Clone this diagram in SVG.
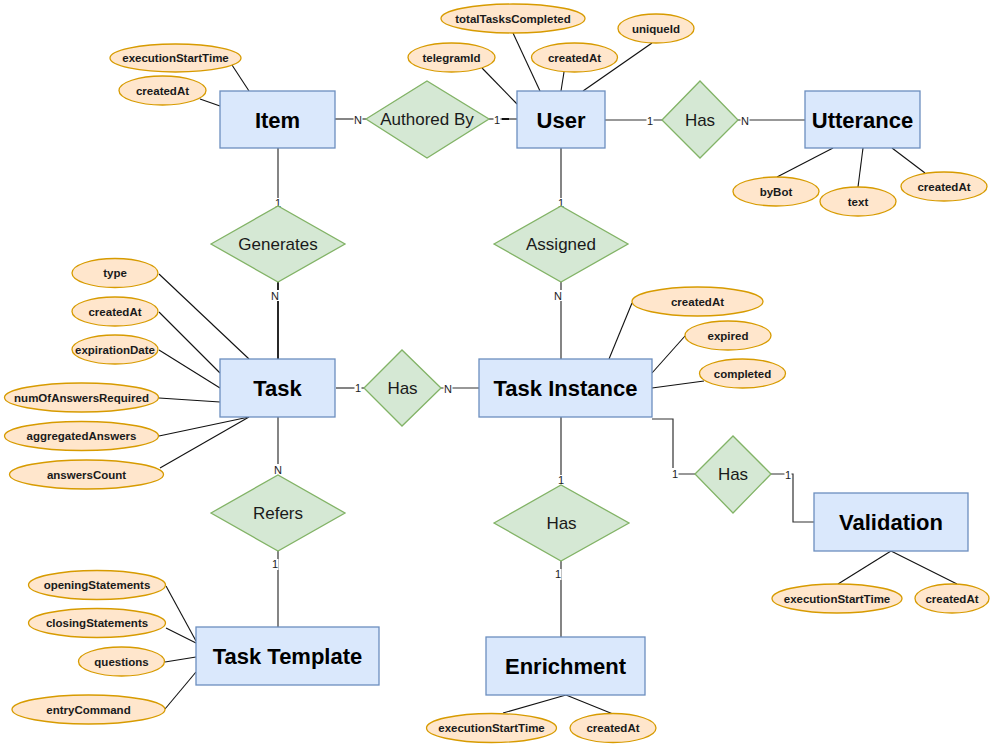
<svg xmlns="http://www.w3.org/2000/svg" width="995" height="744" viewBox="0 0 995 744">
  <style>
    .ent rect { fill: #dae8fc; stroke: #6c8ebf; stroke-width: 1.3; }
    .ent text { font-family: "Liberation Sans", Arial, sans-serif; font-size: 22px; font-weight: bold; fill: #000; text-anchor: middle; }
    .rel polygon { fill: #d5e8d4; stroke: #82b366; stroke-width: 1.3; }
    .rel text { font-family: "Liberation Sans", Arial, sans-serif; font-size: 17px; fill: #1a1a1a; text-anchor: middle; }
    .att ellipse { fill: #ffe6cc; stroke: #d79b00; stroke-width: 1.3; }
    .att text { font-family: "Liberation Sans", Arial, sans-serif; font-size: 11.5px; font-weight: bold; fill: #1a1a1a; text-anchor: middle; }
    .edge { fill: none; stroke: #333; stroke-width: 1.2; }
    .aline { fill: none; stroke: #111; stroke-width: 1.1; }
    .card rect { fill: #fff; stroke: none; }
    .card text { font-family: "Liberation Sans", Arial, sans-serif; font-size: 11px; fill: #222; text-anchor: middle; }
  </style>

  <rect width="995" height="744" fill="#ffffff"/>

  <!-- attribute links -->
  <g id="attribute-links">
    <line class="aline" x1="232" y1="65" x2="249" y2="91"/>
    <line class="aline" x1="200" y1="99" x2="220" y2="106"/>
    <line class="aline" x1="482" y1="68" x2="517" y2="104"/>
    <line class="aline" x1="513" y1="33" x2="540" y2="91"/>
    <line class="aline" x1="564" y1="72" x2="561" y2="91"/>
    <line class="aline" x1="652" y1="43" x2="583" y2="91"/>
    <line class="aline" x1="777" y1="177" x2="833" y2="148"/>
    <line class="aline" x1="858" y1="187" x2="863" y2="148"/>
    <line class="aline" x1="925" y1="173" x2="892" y2="148"/>
    <line class="aline" x1="159" y1="274" x2="249" y2="359"/>
    <line class="aline" x1="159" y1="312" x2="220" y2="373"/>
    <line class="aline" x1="159" y1="350" x2="220" y2="388"/>
    <line class="aline" x1="159" y1="398" x2="220" y2="402"/>
    <line class="aline" x1="159" y1="436" x2="249" y2="417"/>
    <line class="aline" x1="160" y1="468" x2="249" y2="417"/>
    <line class="aline" x1="632" y1="303" x2="609" y2="359"/>
    <line class="aline" x1="685" y1="336" x2="652" y2="373"/>
    <line class="aline" x1="704" y1="381" x2="652" y2="388"/>
    <line class="aline" x1="838" y1="584" x2="891" y2="551"/>
    <line class="aline" x1="957" y1="584" x2="891" y2="551"/>
    <line class="aline" x1="503" y1="713" x2="566" y2="695"/>
    <line class="aline" x1="613" y1="714" x2="566" y2="695"/>
    <line class="aline" x1="166" y1="586" x2="196" y2="641"/>
    <line class="aline" x1="166" y1="628" x2="196" y2="643"/>
    <line class="aline" x1="165" y1="662" x2="196" y2="657"/>
    <line class="aline" x1="165" y1="709" x2="196" y2="672"/>
  </g>

  <!-- relationship connectors -->
  <g id="connectors">
    <line class="edge" x1="335" y1="119" x2="366" y2="119"/>
    <line class="edge" x1="489" y1="119" x2="517" y2="119"/>
    <line x1="502" y1="119" x2="509" y2="119" stroke="#111" stroke-width="2"/>
    <line class="edge" x1="605" y1="120" x2="662" y2="120"/>
    <line class="edge" x1="738" y1="120" x2="805" y2="120"/>
    <line class="edge" x1="278" y1="148" x2="278" y2="206"/>
    <line x1="278" y1="282" x2="278" y2="359" stroke="#111" stroke-width="1.8"/>
    <line class="edge" x1="561" y1="148" x2="561" y2="206"/>
    <line class="edge" x1="561" y1="282" x2="561" y2="359"/>
    <line class="edge" x1="336" y1="388" x2="364" y2="388"/>
    <line class="edge" x1="441" y1="388" x2="479" y2="388"/>
    <line class="edge" x1="278" y1="417" x2="278" y2="475"/>
    <line class="edge" x1="278" y1="551" x2="278" y2="628"/>
    <line class="edge" x1="561" y1="417" x2="561" y2="485"/>
    <line class="edge" x1="561" y1="561" x2="561" y2="637"/>
    <path class="edge" d="M652,419 H673 V474 H695"/>
    <path class="edge" d="M771,474 H793 V522 H814"/>
  </g>

  <!-- cardinality labels -->
  <g id="cardinalities" class="card">
    <rect x="353.5" y="114" width="9" height="11"/><text x="358" y="123.5">N</text>
    <rect x="493.5" y="114" width="7" height="11"/><text x="497" y="123.5">1</text>
    <rect x="646.5" y="115" width="7" height="11"/><text x="650" y="124.5">1</text>
    <rect x="740.5" y="115" width="9" height="11"/><text x="745" y="124.5">N</text>
    <rect x="274.5" y="198" width="7" height="11"/><text x="278" y="207">1</text>
    <rect x="270.5" y="290" width="9" height="11"/><text x="275" y="299.5">N</text>
    <rect x="354.5" y="383" width="7" height="11"/><text x="358" y="392">1</text>
    <rect x="443.5" y="383" width="9" height="11"/><text x="448" y="392.5">N</text>
    <rect x="557.5" y="198" width="7" height="11"/><text x="561" y="207">1</text>
    <rect x="553.5" y="290" width="9" height="11"/><text x="558" y="299.5">N</text>
    <rect x="273.5" y="464" width="9" height="11"/><text x="278" y="473.5">N</text>
    <rect x="271.5" y="559" width="7" height="11"/><text x="275" y="568">1</text>
    <rect x="557.5" y="475" width="7" height="11"/><text x="561" y="484">1</text>
    <rect x="554.5" y="569" width="7" height="11"/><text x="558" y="578">1</text>
    <rect x="671.5" y="468" width="7" height="11"/><text x="675" y="477.5">1</text>
    <rect x="784.5" y="469" width="7" height="11"/><text x="788" y="478.5">1</text>
  </g>

  <!-- entities -->
  <g id="item" class="ent"><rect x="220" y="91" width="115" height="57"/><text x="277.5" y="128">Item</text></g>
  <g id="user" class="ent"><rect x="517" y="91" width="88" height="57"/><text x="561" y="128">User</text></g>
  <g id="utterance" class="ent"><rect x="805" y="91" width="115" height="57"/><text x="862.5" y="128">Utterance</text></g>
  <g id="task" class="ent"><rect x="220" y="359" width="115" height="58"/><text x="277.5" y="396">Task</text></g>
  <g id="task-instance" class="ent"><rect x="479" y="359" width="173" height="58"/><text x="565.5" y="396">Task Instance</text></g>
  <g id="validation" class="ent"><rect x="814" y="493" width="154" height="58"/><text x="891" y="530">Validation</text></g>
  <g id="enrichment" class="ent"><rect x="486" y="637" width="159" height="58"/><text x="565.5" y="674">Enrichment</text></g>
  <g id="task-template" class="ent"><rect x="196" y="627" width="183" height="58"/><text x="287.5" y="664">Task Template</text></g>

  <!-- relationships -->
  <g id="authored-by" class="rel"><polygon points="366,119 427,81 489,119 427,158"/><text x="427" y="125">Authored By</text></g>
  <g id="user-has-utterance" class="rel"><polygon points="662,120 700,81 738,120 700,158"/><text x="700" y="126">Has</text></g>
  <g id="generates" class="rel"><polygon points="211,244 278,206 345,244 278,282"/><text x="278" y="250">Generates</text></g>
  <g id="assigned" class="rel"><polygon points="494,244 561,206 628,244 561,282"/><text x="561" y="250">Assigned</text></g>
  <g id="task-has-instance" class="rel"><polygon points="364,388 402,350 441,388 402,426"/><text x="402.5" y="394">Has</text></g>
  <g id="instance-has-validation" class="rel"><polygon points="695,474 733,436 771,474 733,513"/><text x="733" y="480">Has</text></g>
  <g id="instance-has-enrichment" class="rel"><polygon points="494,523 561,485 629,523 561,561"/><text x="561.5" y="529">Has</text></g>
  <g id="refers" class="rel"><polygon points="211,513 278,475 345,513 278,551"/><text x="278" y="519">Refers</text></g>

  <!-- attributes -->
  <g id="item-executionStartTime" class="att"><ellipse cx="175.5" cy="58" rx="65.5" ry="14"/><text x="175.5" y="62">executionStartTime</text></g>
  <g id="item-createdAt" class="att"><ellipse cx="162.5" cy="90.5" rx="43.5" ry="14.5"/><text x="162.5" y="94.5">createdAt</text></g>
  <g id="user-telegramId" class="att"><ellipse cx="451.5" cy="57.5" rx="43.5" ry="14.5"/><text x="451.5" y="61.5">telegramId</text></g>
  <g id="user-totalTasksCompleted" class="att"><ellipse cx="513" cy="18.5" rx="72" ry="14.5"/><text x="513" y="22.5">totalTasksCompleted</text></g>
  <g id="user-createdAt" class="att"><ellipse cx="574.5" cy="57.5" rx="43" ry="14.5"/><text x="574.5" y="61.5">createdAt</text></g>
  <g id="user-uniqueId" class="att"><ellipse cx="656" cy="28.5" rx="38" ry="14.5"/><text x="656" y="32.5">uniqueId</text></g>
  <g id="utterance-byBot" class="att"><ellipse cx="776" cy="191.5" rx="43" ry="14.5"/><text x="776" y="195.5">byBot</text></g>
  <g id="utterance-text" class="att"><ellipse cx="858" cy="201.5" rx="38" ry="14.5"/><text x="858" y="205.5">text</text></g>
  <g id="utterance-createdAt" class="att"><ellipse cx="944" cy="186.5" rx="43" ry="14.5"/><text x="944" y="190.5">createdAt</text></g>
  <g id="task-type" class="att"><ellipse cx="115" cy="273" rx="43" ry="14.5"/><text x="115" y="277">type</text></g>
  <g id="task-createdAt" class="att"><ellipse cx="115" cy="311.5" rx="43" ry="14.5"/><text x="115" y="315.5">createdAt</text></g>
  <g id="task-expirationDate" class="att"><ellipse cx="115" cy="349.5" rx="43" ry="14.5"/><text x="115" y="353.5">expirationDate</text></g>
  <g id="task-numOfAnswersRequired" class="att"><ellipse cx="81.5" cy="397.5" rx="77" ry="14.5"/><text x="81.5" y="401.5">numOfAnswersRequired</text></g>
  <g id="task-aggregatedAnswers" class="att"><ellipse cx="81.5" cy="436" rx="77" ry="14.5"/><text x="81.5" y="440">aggregatedAnswers</text></g>
  <g id="task-answersCount" class="att"><ellipse cx="86.5" cy="474.5" rx="77" ry="14.5"/><text x="86.5" y="478.5">answersCount</text></g>
  <g id="instance-createdAt" class="att"><ellipse cx="697.5" cy="301.5" rx="65.5" ry="14.5"/><text x="697.5" y="305.5">createdAt</text></g>
  <g id="instance-expired" class="att"><ellipse cx="728" cy="335.5" rx="43" ry="14.5"/><text x="728" y="339.5">expired</text></g>
  <g id="instance-completed" class="att"><ellipse cx="742.5" cy="373.5" rx="43" ry="14.5"/><text x="742.5" y="377.5">completed</text></g>
  <g id="validation-executionStartTime" class="att"><ellipse cx="837" cy="598.5" rx="65" ry="14.5"/><text x="837" y="602.5">executionStartTime</text></g>
  <g id="validation-createdAt" class="att"><ellipse cx="952" cy="598.5" rx="37" ry="14.5"/><text x="952" y="602.5">createdAt</text></g>
  <g id="enrichment-executionStartTime" class="att"><ellipse cx="491.5" cy="728" rx="65" ry="14.5"/><text x="491.5" y="732">executionStartTime</text></g>
  <g id="enrichment-createdAt" class="att"><ellipse cx="613" cy="728" rx="43" ry="14.5"/><text x="613" y="732">createdAt</text></g>
  <g id="template-openingStatements" class="att"><ellipse cx="97" cy="585" rx="68.5" ry="14.5"/><text x="97" y="589">openingStatements</text></g>
  <g id="template-closingStatements" class="att"><ellipse cx="97" cy="623" rx="68.5" ry="14.5"/><text x="97" y="627">closingStatements</text></g>
  <g id="template-questions" class="att"><ellipse cx="121.5" cy="661.5" rx="43" ry="14.5"/><text x="121.5" y="665.5">questions</text></g>
  <g id="template-entryCommand" class="att"><ellipse cx="88.5" cy="709.5" rx="76.5" ry="14.5"/><text x="88.5" y="713.5">entryCommand</text></g>
</svg>
